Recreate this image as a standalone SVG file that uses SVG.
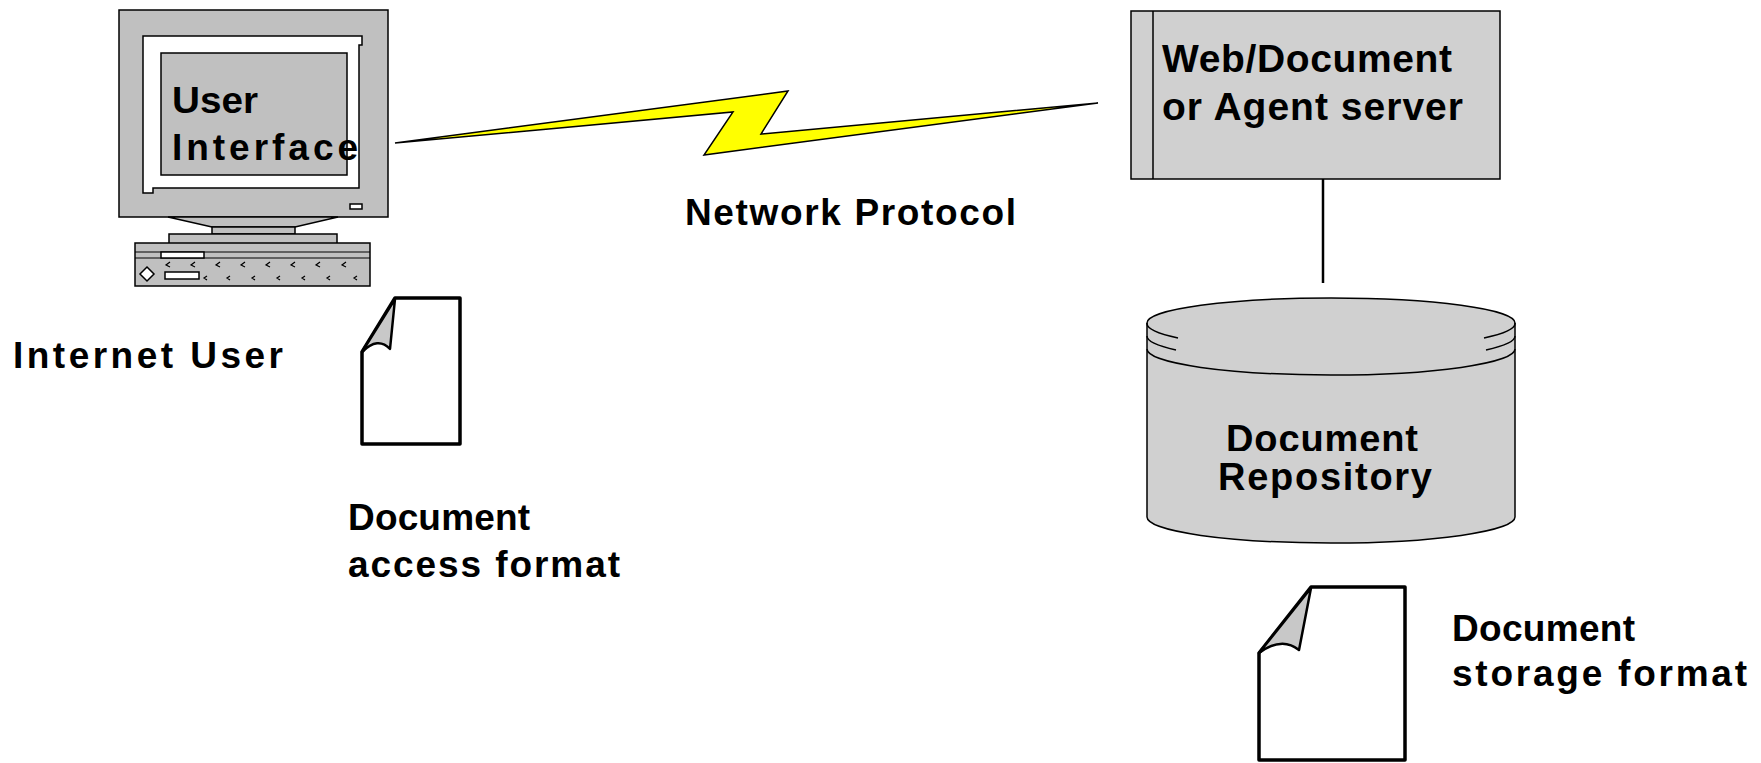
<svg xmlns="http://www.w3.org/2000/svg" width="1761" height="763" viewBox="0 0 1761 763">
<style>
.t{font-family:"Liberation Sans",Arial,sans-serif;font-weight:bold;font-size:37px;fill:#000}
.g{fill:#c0c0c0;stroke:#000;stroke-width:1.5}
.lg{fill:#d0d0d0;stroke:#000;stroke-width:1.5}
.w{fill:#fff;stroke:#000;stroke-width:1.5}
.doc{fill:#fff;stroke:#000;stroke-width:3.5;stroke-linejoin:round}
.fold{fill:#c8c8c8;stroke:#000;stroke-width:2.5;stroke-linejoin:round}
.kb{fill:none;stroke:#000;stroke-width:1.2}
</style>
<defs>
<clipPath id="clipDoc"><rect x="1150" y="400" width="360" height="51"/></clipPath>
</defs>
<rect width="1761" height="763" fill="#fff"/>
<g id="connectors">
<polygon points="395,143 788,91 761,134 1098,103 704,155 733,112" fill="#ffff00" stroke="#000" stroke-width="1.5" stroke-linejoin="miter"/>
<line x1="1323" y1="172" x2="1323" y2="283" stroke="#000" stroke-width="2.5"/>
</g>
<g id="user-computer">
<rect x="119" y="10" width="269" height="207" class="g"/>
<polygon points="143,36 362,36 362,45 359,45 359,188 153,188 153,193 143,193" class="w" stroke-width="2"/>
<rect x="161" y="53" width="186" height="122" class="g"/>
<rect x="350" y="204" width="12" height="5" class="w" stroke-width="1.2"/>
<polygon points="168,217 338,217 295,227 212,227" class="g"/>
<rect x="212" y="227" width="83" height="7" class="g"/>
<rect x="169" y="234" width="168" height="10" class="g"/>
<rect x="135" y="243" width="235" height="43" class="g"/>
<line x1="135" y1="252" x2="370" y2="252" stroke="#000" stroke-width="1.2"/>
<line x1="135" y1="258" x2="370" y2="258" stroke="#000" stroke-width="1.2"/>
<rect x="161" y="252" width="43" height="6" class="w" stroke-width="1.2"/>
<polygon points="147,267 154,274 147,281 140,274" class="w" stroke-width="1.5"/>
<rect x="165" y="272" width="34" height="7" class="w" stroke-width="1.2"/>
<path class="kb" d="M170,262 L166,265 L170,267 M195,262 L191,265 L195,267 M220,262 L216,265 L220,267 M245,262 L241,265 L245,267 M270,262 L266,265 L270,267 M295,262 L291,265 L295,267 M320,262 L316,265 L320,267 M346,262 L342,265 L346,267"/>
<path class="kb" d="M207,276 L204,278 L207,280 M230,276 L227,278 L230,280 M255,276 L252,278 L255,280 M280,276 L277,278 L280,280 M305,276 L302,278 L305,280 M330,276 L327,278 L330,280 M357,276 L354,278 L357,280"/>
<text class="t" x="172" y="113" textLength="86" lengthAdjust="spacingAndGlyphs">User</text>
<text class="t" x="172" y="160" textLength="186" lengthAdjust="spacing">Interface</text>
</g>
<g id="internet-user-label">
<text class="t" x="13" y="368" textLength="270" lengthAdjust="spacing">Internet User</text>
</g>
<g id="network-protocol-label">
<text class="t" x="685" y="225" textLength="331" lengthAdjust="spacing">Network Protocol</text>
</g>
<g id="server">
<rect x="1131" y="11" width="369" height="168" class="lg"/>
<line x1="1153" y1="11" x2="1153" y2="179" stroke="#000" stroke-width="1.5"/>
<text class="t" x="1162" y="72" style="font-size:39px" textLength="290" lengthAdjust="spacing">Web/Document</text>
<text class="t" x="1162" y="120" style="font-size:39px" textLength="301" lengthAdjust="spacing">or Agent server</text>
</g>
<g id="repository">
<path class="lg" d="M1147,323 A184,25 0 0 1 1515,323 L1515,517 A184,26 0 0 1 1147,517 Z"/>
<path fill="none" stroke="#000" stroke-width="1.5" d="M1147,349 A184,26 0 0 0 1515,349"/>
<path fill="none" stroke="#000" stroke-width="1.5" d="M1147,323 A184,26 0 0 0 1178,338 M1515,323 A184,26 0 0 1 1484,338 M1147,336 A184,26 0 0 0 1176,350 M1515,336 A184,26 0 0 1 1486,350"/>
<text class="t" x="1226" y="452" style="font-size:38px" textLength="192" lengthAdjust="spacing" clip-path="url(#clipDoc)">Document</text>
<text class="t" x="1218" y="490" style="font-size:38px" textLength="214" lengthAdjust="spacing">Repository</text>
</g>
<g id="access-document">
<path class="doc" d="M395,298 L460,298 L460,444 L362,444 L362,352 Z"/>
<path class="fold" d="M395,299 L390,349 Q378,336 362,352 Z"/>
<text class="t" x="348" y="530" textLength="182" lengthAdjust="spacing">Document</text>
<text class="t" x="348" y="577" textLength="272" lengthAdjust="spacing">access format</text>
</g>
<g id="storage-document">
<path class="doc" d="M1311,587 L1405,587 L1405,760 L1259,760 L1259,653 Z"/>
<path class="fold" d="M1311,588 L1299,650 Q1282,636 1259,653 Z"/>
<text class="t" x="1452" y="641" textLength="183" lengthAdjust="spacing">Document</text>
<text class="t" x="1452" y="686" textLength="295" lengthAdjust="spacing">storage format</text>
</g>
</svg>
